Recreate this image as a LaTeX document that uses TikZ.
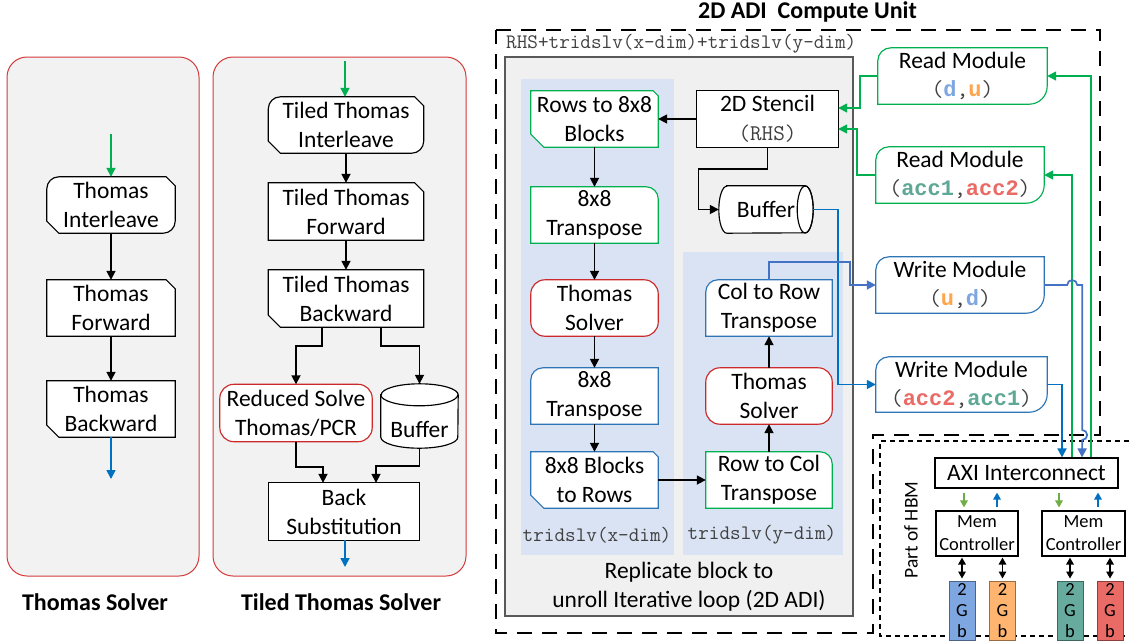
\documentclass[tikz,border=0pt]{standalone}
\usepackage{fontspec}
\setmainfont{Carlito}
\newfontfamily\boldmono{Liberation Mono}
\usetikzlibrary{arrows.meta,calc}

\definecolor{panelfill}{HTML}{F2F2F2}
\definecolor{panelred}{HTML}{D43A3A}
\definecolor{innerfill}{HTML}{F0F0F0}
\definecolor{regionblue}{HTML}{DAE3F3}
\definecolor{gboxc}{HTML}{00B050}
\definecolor{rboxc}{HTML}{CC2A2A}
\definecolor{bboxc}{HTML}{2E75B6}
\definecolor{garrc}{HTML}{00B050}
\definecolor{barrc}{HTML}{0070C0}
\definecolor{barrtwoc}{HTML}{4472C4}
\definecolor{lgarrc}{HTML}{70AD47}
\definecolor{monogray}{HTML}{404040}
\definecolor{dcol}{HTML}{7EA6E0}
\definecolor{ucol}{HTML}{FFA64D}
\definecolor{accone}{HTML}{5FA896}
\definecolor{acctwo}{HTML}{EA6B66}
\definecolor{memblue}{HTML}{7EA6E0}
\definecolor{memorange}{HTML}{FFB570}
\definecolor{memteal}{HTML}{67AB9F}
\definecolor{memred}{HTML}{EA6B66}

\pgfdeclarelayer{bg}
\pgfdeclarelayer{fr}
\pgfsetlayers{bg,fr,main}

\newcommand\mainfs{\fontsize{23.5}{29}\selectfont}
\newcommand\modfs{\fontsize{23.5}{28}\selectfont}
\newcommand\monofs{\ttfamily\fontsize{23}{28}\selectfont}
\newcommand\varfs{\boldmono\bfseries\fontsize{22}{28}\selectfont}
\newcommand\labfs{\ttfamily\fontsize{20.6}{22}\selectfont}
\newcommand\titlefs{\bfseries\fontsize{24}{28}\selectfont}
\newcommand\memfs{\fontsize{18.5}{23}\selectfont}
\newcommand\gbfs{\fontsize{18.5}{21}\selectfont}
% a bold coloured variable name inside a module label
\newcommand\var[2]{{\varfs\color{#1}#2}}

% corner pieces of a box outline: size, node
\newcommand\sTL[2]{(#2.north west)}
\newcommand\rTL[2]{([yshift=-#1pt]#2.north west) .. controls ([yshift=-0.448*#1pt]#2.north west) and ([xshift=0.448*#1pt]#2.north west) .. ([xshift=#1pt]#2.north west)}
\newcommand\cTL[2]{([yshift=-#1pt]#2.north west) -- ([xshift=#1pt]#2.north west)}
\newcommand\sTR[2]{(#2.north east)}
\newcommand\rTR[2]{([xshift=-#1pt]#2.north east) .. controls ([xshift=-0.448*#1pt]#2.north east) and ([yshift=-0.448*#1pt]#2.north east) .. ([yshift=-#1pt]#2.north east)}
\newcommand\cTR[2]{([xshift=-#1pt]#2.north east) -- ([yshift=-#1pt]#2.north east)}
\newcommand\sBR[2]{(#2.south east)}
\newcommand\rBR[2]{([yshift=#1pt]#2.south east) .. controls ([yshift=0.448*#1pt]#2.south east) and ([xshift=-0.448*#1pt]#2.south east) .. ([xshift=-#1pt]#2.south east)}
\newcommand\cBR[2]{([yshift=#1pt]#2.south east) -- ([xshift=-#1pt]#2.south east)}
\newcommand\sBL[2]{(#2.south west)}
\newcommand\rBL[2]{([xshift=#1pt]#2.south west) .. controls ([xshift=0.448*#1pt]#2.south west) and ([yshift=0.448*#1pt]#2.south west) .. ([yshift=#1pt]#2.south west)}
\newcommand\cBL[2]{([xshift=#1pt]#2.south west) -- ([yshift=#1pt]#2.south west)}
\newcommand\outlinebox[6]{\draw[#6] #2{#1} -- #3{#1} -- #4{#1} -- #5{#1} -- cycle;}

\tikzset{
  txt/.style={align=center, inner sep=0pt, font=\mainfs},
  modtxt/.style={align=center, inner sep=0pt, font=\modfs},
  boxline/.style={fill=white, line width=1.15pt},
  tipT/.style={-{Triangle[length=9pt,width=9pt]}},
  arr/.style={line width=1.7pt, tipT},
  garr/.style={arr, draw=garrc},
  barr/.style={arr, draw=barrc},
  barrtwo/.style={arr, draw=barrtwoc},
  smallarr/.style={line width=1.6pt, -{Triangle[length=7pt,width=7.5pt]}},
  dblarr/.style={line width=1.5pt, {Triangle[length=7pt,width=7.5pt]}-{Triangle[length=7pt,width=7.5pt]}},
  panel/.style={fill=panelfill, draw=panelred, line width=1pt, rounded corners=20pt},
  longdash/.style={line width=1.9pt, dash pattern=on 15pt off 10pt},
  shortdash/.style={line width=1.6pt, dash pattern=on 5pt off 4pt},
  membox/.style={draw=#1!60!black, fill=#1, line width=1pt, minimum width=26pt, minimum height=59pt, inner sep=0pt, align=center, font=\gbfs},
  plainbox/.style={draw, fill=white, line width=1.15pt, inner sep=0pt, align=center},
}

\begin{document}
\begin{tikzpicture}[x=1pt,y=-1pt]
\useasboundingbox (0,0) rectangle (1129,640);

% ---------- backgrounds ----------
\begin{pgfonlayer}{bg}
  \draw[panel] (7,57) rectangle (199,576);
  \draw[panel] (213,57) rectangle (466,576);
  \draw[longdash] (496,30) -- (1100,30) -- (1100,435) -- (873,435) -- (873,633) -- (496,633) -- cycle;
  \draw[shortdash] (1129,441) -- (880,441) -- (880,636) -- (1129,636);
  \draw[fill=innerfill, draw=black!65, line width=1.1pt] (505,57) rectangle (853,616);
  \fill[regionblue] (521,79) rectangle (674,555);
  \fill[regionblue] (683,252) rectangle (843,555);
\end{pgfonlayer}

% ---------- Thomas Solver ----------
\node[txt, minimum width=128pt, minimum height=56pt] (ti) at (111,205) {Thomas\\Interleave};
\node[txt, minimum width=128pt, minimum height=56pt] (tf) at (111,308) {Thomas\\Forward};
\node[txt, minimum width=128pt, minimum height=56pt] (tb) at (111,409) {Thomas\\Backward};
\coordinate (inA) at (111,134);
\coordinate (outA) at (111,479);
\draw[garr] (inA) -- (ti.north);
\draw[arr] (ti.south) -- (tf.north);
\draw[arr] (tf.south) -- (tb.north);
\draw[barr] (tb.south) -- (outA);
\node[font=\titlefs, anchor=base] (labA) at (95,610) {Thomas Solver};

% ---------- Tiled Thomas Solver ----------
\node[txt, minimum width=155pt, minimum height=56pt] (tti) at (346,125) {Tiled Thomas\\Interleave};
\node[txt, minimum width=155pt, minimum height=57pt] (ttf) at (346,211.5) {Tiled Thomas\\Forward};
\node[txt, minimum width=155pt, minimum height=57pt] (ttb) at (346,298.5) {Tiled Thomas\\Backward};
\node[txt, minimum width=152pt, minimum height=57pt] (rs) at (296,413) {Reduced Solve\\Thomas/PCR};
\node[minimum width=77pt, minimum height=64pt, inner sep=0pt] (buf1) at (419.5,416) {};
\node[txt] (buf1t) at ([yshift=-13pt]buf1.center) {Buffer};
\node[txt, minimum width=150pt, minimum height=57pt] (bs) at (344,511.5) {Back\\Substitution};
\coordinate (inB) at (345,61);
\coordinate (outB) at (345,567);
\draw[garr] (inB) -- (inB |- tti.north);
\draw[arr] (ttf.north |- tti.south) -- (ttf.north);
\draw[arr] (ttf.south) -- (ttb.north);
\draw[arr] ([xshift=-24pt]ttb.south) -- ++(0,19) -| (rs.north);
\draw[arr] ([xshift=35pt]ttb.south) -- ++(0,19) -| (buf1.north);
\draw[arr] (rs.south) -- ++(0,25) -| ([xshift=-21pt]bs.north);
\draw[arr] (buf1.south) -- ++(0,18) -| ([xshift=32pt]bs.north);
\draw[barr] (outB |- bs.south) -- (outB);
\node[font=\titlefs, anchor=base] (labB) at (341,610) {Tiled Thomas Solver};

% ---------- 2D ADI compute unit ----------
\node[font=\titlefs, anchor=base] (labC) at (807.5,18) {2D ADI\ \ Compute Unit};
\node[anchor=west, inner sep=0pt, font=\labfs, text=monogray] (rhslab) at (506,44) {RHS+tridslv(x-dim)+tridslv(y-dim)};

\node[txt, minimum width=141pt, minimum height=56pt] (st) at (767.5,119) {2D Stencil\\{\ttfamily\fontsize{22.5}{29}\selectfont\color{monogray}(RHS)}};
\node[txt, minimum width=127pt, minimum height=56pt] (r2b) at (594.5,119) {Rows to 8x8\\Blocks};
\node[txt, minimum width=127pt, minimum height=56pt] (t1) at (594.5,215) {8x8\\Transpose};
\node[txt, minimum width=127pt, minimum height=56pt] (ts1) at (594.5,308) {Thomas\\Solver};
\node[txt, minimum width=127pt, minimum height=56pt] (t2) at (594.5,396) {8x8\\Transpose};
\node[txt, minimum width=127pt, minimum height=56pt] (b2r) at (594.5,480) {8x8 Blocks\\to Rows};
\node[txt, minimum width=126pt, minimum height=56pt] (c2r) at (769,308) {Col to Row\\Transpose};
\node[txt, minimum width=126pt, minimum height=56pt] (ts2) at (769,396) {Thomas\\Solver};
\node[txt, minimum width=126pt, minimum height=56pt] (r2c) at (769,480) {Row to Col\\Transpose};
\node[txt, minimum width=94pt, minimum height=47pt] (buf2) at (766,209.5) {Buffer};

\node[font=\labfs, text=monogray, inner sep=0pt] (labx) at (597,535) {tridslv(x-dim)};
\node[font=\labfs, text=monogray, inner sep=0pt] (laby) at (762,535) {tridslv(y-dim)};
\node[txt] (rep) at (689,586.5) {Replicate block to\\unroll Iterative loop (2D ADI)};

\draw[arr] (st.west) -- (r2b.east);
\draw[arr] (r2b.south) -- (t1.north);
\draw[arr] (t1.south) -- (ts1.north);
\draw[arr] (ts1.south) -- (t2.north);
\draw[arr] (t2.south) -- (b2r.north);
\draw[arr] (b2r.east) -- (r2c.west);
\draw[arr] (r2c.north) -- (ts2.south);
\draw[arr] (ts2.north) -- (c2r.south);
\draw[arr] (st.south) -- ++(0,22) -- ++(-69,0) |- (buf2.west);

% memory modules
\node[modtxt, minimum width=169pt, minimum height=56pt] (rd1) at (962.5,76)
  {Read Module\\{\monofs\color{monogray}(\var{dcol}{d},\var{ucol}{u})}};
\node[modtxt, minimum width=168pt, minimum height=56pt] (rd2) at (960,175)
  {Read Module\\{\monofs\color{monogray}(\var{accone}{acc1},\var{acctwo}{acc2})}};
\node[modtxt, minimum width=168pt, minimum height=56pt] (w1) at (960,285)
  {Write Module\\{\monofs\color{monogray}(\var{ucol}{u},\var{dcol}{d})}};
\node[modtxt, minimum width=171pt, minimum height=55pt] (w2) at (961.5,384.5)
  {Write Module\\{\monofs\color{monogray}(\var{acctwo}{acc2},\var{accone}{acc1})}};

\draw[garr] (rd1.west) -- ++(-18,0) |- ([yshift=11pt]st.east);
\draw[garr] (rd2.west) -- ++(-19,0) |- ([yshift=-10pt]st.east);
\draw[barr] (buf2.east) -- ++(25,0) |- (w2.west);
\draw[barrtwo] (c2r.north) -- ++(0,-18) -- ++(81,0) |- (w1.west);

% HBM part
\node[rotate=90, inner sep=0pt, font=\fontsize{19.5}{23}\selectfont] (hbm) at (911,530) {Part of HBM};
\node[plainbox, minimum width=183pt, minimum height=30pt, font=\mainfs] (axi) at (1026.5,473) {AXI Interconnect};
\node[plainbox, minimum width=82pt, minimum height=45pt, font=\memfs] (mc1) at (977,533.5) {Mem\\Controller};
\node[plainbox, minimum width=83pt, minimum height=45pt, font=\memfs] (mc2) at (1083.5,533.5) {Mem\\Controller};
\node[membox=memblue] (m1) at (962,610.5) {2\\G\\b};
\node[membox=memorange] (m2) at (1002.5,610.5) {2\\G\\b};
\node[membox=memteal] (m3) at (1070,610.5) {2\\G\\b};
\node[membox=memred] (m4) at (1110,610.5) {2\\G\\b};

\draw[garr] ([xshift=64.5pt]axi.north) |- (rd1.east);
\draw[garr] ([xshift=45.5pt]axi.north) |- (rd2.east);
\draw[barr] (w2.east) -| ([xshift=35.5pt]axi.north);
\draw[barrtwo] (w1.east) -- ++(23,0) arc[start angle=180, end angle=0, radius=5pt] -- ++(5,0)
  -- ++(0,145) arc[start angle=90, end angle=-90, radius=5pt] -- ([xshift=55.5pt]axi.north);

\coordinate (ga) at ([xshift=-13pt]mc1.north);
\coordinate (ba) at ([xshift=20pt]mc1.north);
\coordinate (gb) at ([xshift=-24.5pt]mc2.north);
\coordinate (bb) at ([xshift=14.5pt]mc2.north);
\draw[smallarr, draw=lgarrc, shorten <=4pt, shorten >=3pt] (ga |- axi.south) -- (ga);
\draw[smallarr, draw=lgarrc, shorten <=4pt, shorten >=3pt] (gb |- axi.south) -- (gb);
\draw[smallarr, draw=barrc, shorten <=3pt, shorten >=4pt] (ba) -- (ba |- axi.south);
\draw[smallarr, draw=barrc, shorten <=3pt, shorten >=4pt] (bb) -- (bb |- axi.south);

\draw[dblarr, shorten <=1pt, shorten >=2pt] (m1.north |- mc1.south) -- (m1.north);
\draw[dblarr, shorten <=1pt, shorten >=2pt] (m2.north |- mc1.south) -- (m2.north);
\draw[dblarr, shorten <=1pt, shorten >=2pt] (m3.north |- mc2.south) -- (m3.north);
\draw[dblarr, shorten <=1pt, shorten >=2pt] (m4.north |- mc2.south) -- (m4.north);

% ---------- box outlines ----------
\begin{pgfonlayer}{fr}
  \outlinebox{ti}{\rTL{12}}{\cTR{9}}{\rBR{12}}{\cBL{12}}{boxline}
  \outlinebox{tf}{\sTL{0}}{\cTR{9}}{\sBR{0}}{\sBL{0}}{boxline}
  \outlinebox{tb}{\sTL{0}}{\sTR{0}}{\sBR{0}}{\cBL{12}}{boxline}
  \outlinebox{tti}{\rTL{12}}{\cTR{9}}{\rBR{12}}{\cBL{12}}{boxline}
  \outlinebox{ttf}{\sTL{0}}{\cTR{9}}{\sBR{0}}{\sBL{0}}{boxline}
  \outlinebox{ttb}{\sTL{0}}{\sTR{0}}{\sBR{0}}{\cBL{12}}{boxline}
  \outlinebox{rs}{\rTL{14}}{\rTR{14}}{\rBR{14}}{\rBL{14}}{boxline, draw=rboxc}
  \outlinebox{bs}{\sTL{0}}{\sTR{0}}{\sBR{0}}{\sBL{0}}{boxline}
  \outlinebox{st}{\sTL{0}}{\sTR{0}}{\sBR{0}}{\sBL{0}}{boxline}
  \outlinebox{r2b}{\sTL{0}}{\cTR{5}}{\sBR{0}}{\cBL{13}}{boxline, draw=gboxc}
  \outlinebox{t1}{\sTL{0}}{\rTR{12}}{\sBR{0}}{\sBL{0}}{boxline, draw=gboxc}
  \outlinebox{ts1}{\rTL{14}}{\rTR{14}}{\rBR{14}}{\rBL{14}}{boxline, draw=rboxc}
  \outlinebox{t2}{\rTL{12}}{\sTR{0}}{\sBR{0}}{\sBL{0}}{boxline, draw=bboxc}
  \outlinebox{b2r}{\sTL{0}}{\cTR{5}}{\sBR{0}}{\cBL{13}}{boxline, draw=bboxc}
  \outlinebox{c2r}{\rTL{12}}{\sTR{0}}{\sBR{0}}{\sBL{0}}{boxline, draw=bboxc}
  \outlinebox{ts2}{\rTL{14}}{\rTR{14}}{\rBR{14}}{\rBL{14}}{boxline, draw=rboxc}
  \outlinebox{r2c}{\sTL{0}}{\rTR{12}}{\sBR{0}}{\sBL{0}}{boxline, draw=gboxc}
  \outlinebox{rd1}{\rTL{13}}{\sTR{0}}{\rBR{18}}{\sBL{0}}{boxline, draw=gboxc}
  \outlinebox{rd2}{\rTL{13}}{\sTR{0}}{\rBR{18}}{\sBL{0}}{boxline, draw=gboxc}
  \outlinebox{w1}{\rTL{13}}{\sTR{0}}{\rBR{18}}{\sBL{0}}{boxline, draw=bboxc}
  \outlinebox{w2}{\rTL{13}}{\sTR{0}}{\rBR{18}}{\sBL{0}}{boxline, draw=bboxc}
  % vertical cylinder
  \draw[boxline] ([yshift=-11pt]buf1.north west) -- ([yshift=11pt]buf1.south west)
    arc[start angle=180, end angle=360, x radius=38.5pt, y radius=11pt]
    -- ([yshift=-11pt]buf1.north east)
    arc[start angle=0, end angle=180, x radius=38.5pt, y radius=11pt] -- cycle;
  \draw[line width=1.15pt] ([yshift=-11pt]buf1.north west)
    arc[start angle=180, end angle=360, x radius=38.5pt, y radius=11pt];
  % horizontal cylinder
  \draw[boxline] ([xshift=8pt]buf2.north west) -- ([xshift=-8pt]buf2.north east)
    arc[start angle=90, end angle=-90, x radius=8pt, y radius=23.5pt]
    -- ([xshift=8pt]buf2.south west)
    arc[start angle=270, end angle=90, x radius=8pt, y radius=23.5pt] -- cycle;
  \draw[line width=1.15pt] ([xshift=-8pt]buf2.east) ellipse[x radius=8pt, y radius=23.5pt];
\end{pgfonlayer}
\end{tikzpicture}
\end{document}
